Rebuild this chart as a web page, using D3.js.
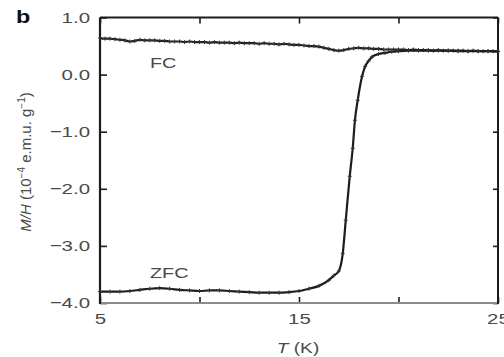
<!DOCTYPE html>
<html>
<head>
<meta charset="utf-8">
<script src="https://cdn.jsdelivr.net/npm/d3@7/dist/d3.min.js"></script>
<style>
  html, body { margin: 0; padding: 0; background: #fff; }
  svg { display: block; }
  text { font-family: "Liberation Sans", Arial, sans-serif; }
</style>
</head>
<body>
<svg id="chart" width="504" height="357"></svg>
<script>
// Field-cooled susceptibility, T = 5 K to 25 K in 0.25 K steps
const fcT = d3.range(5, 25.001, 0.25);
const fcM = [
  0.64, 0.63, 0.63, 0.62, 0.61, 0.60, 0.58, 0.59, 0.61, 0.60,
  0.60, 0.60, 0.59, 0.59, 0.58, 0.58, 0.58, 0.57, 0.58, 0.57,
  0.57, 0.57, 0.56, 0.57, 0.56, 0.56, 0.56, 0.55, 0.56, 0.55,
  0.55, 0.55, 0.54, 0.55, 0.54, 0.54, 0.53, 0.54, 0.53, 0.52,
  0.52, 0.51, 0.50, 0.50, 0.49, 0.47, 0.45, 0.43, 0.42, 0.43,
  0.45, 0.46, 0.47, 0.46, 0.46, 0.45, 0.45, 0.44, 0.44, 0.44,
  0.44, 0.44, 0.43, 0.44, 0.43, 0.43, 0.43, 0.42, 0.43, 0.42,
  0.42, 0.42, 0.42, 0.42, 0.41, 0.42, 0.41, 0.41, 0.41, 0.41,
  0.41
];

// Zero-field-cooled susceptibility
const zfcT = [
  5.0, 5.5, 6.0, 6.5, 7.0, 7.5, 8.0, 8.5, 9.0, 9.5,
  10.0, 10.5, 11.0, 11.5, 12.0, 12.5, 13.0, 13.5, 14.0, 14.5,
  15.0, 15.5, 16.0, 16.5, 16.75, 17.0, 17.2, 17.35, 17.55, 17.7,
  17.81, 17.95, 18.17, 18.32, 18.5, 18.67, 19.0, 19.32, 19.66, 20.0,
  20.5, 21.0, 21.5, 22.0, 22.5, 23.0, 23.5, 24.0, 24.5, 25.0
];
const zfcM = [
  -3.80, -3.80, -3.80, -3.79, -3.77, -3.75, -3.74, -3.75, -3.77, -3.78,
  -3.79, -3.78, -3.78, -3.79, -3.80, -3.81, -3.82, -3.82, -3.82, -3.81,
  -3.79, -3.75, -3.70, -3.60, -3.52, -3.44, -3.13, -2.55, -1.78, -1.29,
  -0.80, -0.45, -0.03, 0.14, 0.24, 0.31, 0.36, 0.38, 0.40, 0.41,
  0.42, 0.42, 0.42, 0.42, 0.42, 0.41, 0.41, 0.41, 0.41, 0.40
];

const xTicks = [5, 10, 15, 20, 25];
const xTickLabels = ["5", "", "15", "", "25"];
const yTicks = [1, 0, -1, -2, -3, -4];

const svg = d3.select("#chart");
const plotLeft = 100, plotRight = 498, plotTop = 17.5, plotBottom = 303;

const x = d3.scaleLinear().domain([5, 25]).range([plotLeft, plotRight]);
const y = d3.scaleLinear().domain([-4, 1]).range([plotBottom, plotTop]);

const ink = "#1c1c1c";
const labelColor = "#4a4a4a";
const stretch = 1.32;   // wide lettering used throughout the figure

// Places a horizontally widened text whose anchor sits at (ax, ay)
function wideText(ax, ay, size, anchor) {
  return svg.append("text")
    .attr("transform", `translate(${ax},${ay}) scale(${stretch},1)`)
    .attr("text-anchor", anchor || "start")
    .attr("font-size", size)
    .attr("fill", labelColor);
}

// Panel letter
svg.append("text")
  .attr("transform", "translate(16,23) scale(1.3,1)")
  .attr("font-size", 18).attr("font-weight", "bold")
  .attr("fill", "#111")
  .text("b");

// Bottom axis: ticks pointing up into the plot
const xAxis = svg.append("g")
  .attr("transform", `translate(0,${plotBottom})`)
  .call(d3.axisBottom(x).tickValues(xTicks)
    .tickSizeInner(-6).tickSizeOuter(0)
    .tickFormat((d, i) => xTickLabels[i]));
xAxis.select(".domain").remove();
xAxis.selectAll(".tick line").attr("stroke", ink).attr("stroke-width", 1.6);
xAxis.selectAll(".tick text")
  .attr("y", 21).attr("dy", 0)
  .attr("transform", `scale(${stretch},1)`)
  .attr("font-size", 15.5).attr("fill", labelColor);

// Top axis: ticks only
const xTop = svg.append("g")
  .attr("transform", `translate(0,${plotTop})`)
  .call(d3.axisTop(x).tickValues(xTicks).tickSizeInner(-6).tickSizeOuter(0).tickFormat(""));
xTop.select(".domain").remove();
xTop.selectAll(".tick line").attr("stroke", ink).attr("stroke-width", 1.6);

// Left axis: ticks pointing right into the plot
const yAxis = svg.append("g")
  .attr("transform", `translate(${plotLeft},0)`)
  .call(d3.axisLeft(y).tickValues(yTicks)
    .tickSizeInner(-7).tickSizeOuter(0)
    .tickFormat(d3.format(".1f")));
yAxis.select(".domain").remove();
yAxis.selectAll(".tick line").attr("stroke", ink).attr("stroke-width", 1.6);
yAxis.selectAll(".tick text")
  .attr("x", -10 / stretch)
  .attr("transform", `scale(${stretch},1)`)
  .attr("font-size", 15.5).attr("fill", labelColor);

// Right axis: ticks only
const yRight = svg.append("g")
  .attr("transform", `translate(${plotRight},0)`)
  .call(d3.axisRight(y).tickValues(yTicks).tickSizeInner(-5).tickSizeOuter(0).tickFormat(""));
yRight.select(".domain").remove();
yRight.selectAll(".tick line").attr("stroke", ink).attr("stroke-width", 1.6);

// Frame
svg.append("line").attr("x1", plotLeft).attr("x2", plotRight).attr("y1", plotBottom).attr("y2", plotBottom)
  .attr("stroke", "#8c8c8c").attr("stroke-width", 2.2);
svg.append("line").attr("x1", plotLeft).attr("x2", plotRight).attr("y1", plotTop).attr("y2", plotTop)
  .attr("stroke", ink).attr("stroke-width", 1.8);
svg.append("line").attr("x1", plotLeft).attr("x2", plotLeft).attr("y1", plotTop).attr("y2", plotBottom + 1)
  .attr("stroke", ink).attr("stroke-width", 2.2);
svg.append("line").attr("x1", plotRight).attr("x2", plotRight).attr("y1", plotTop).attr("y2", plotBottom + 1)
  .attr("stroke", ink).attr("stroke-width", 2);

// Curves with small point markers
const line = d3.line()
  .x(d => x(d[0])).y(d => y(d[1]))
  .curve(d3.curveMonotoneX);

function drawSeries(ts, ms) {
  const pts = ts.map((t, i) => [t, ms[i]]);
  svg.append("path").datum(pts)
    .attr("d", line)
    .attr("fill", "none")
    .attr("stroke", ink)
    .attr("stroke-width", 2.2)
    .attr("stroke-linejoin", "round");
  svg.append("g").selectAll("path").data(pts).join("path")
    .attr("d", d => {
      const px = x(d[0]), py = y(d[1]);
      return `M${px - 2},${py}H${px + 2}M${px},${py - 2}V${py + 2}`;
    })
    .attr("stroke", "#333")
    .attr("stroke-width", 1);
}
drawSeries(fcT, fcM);
drawSeries(zfcT, zfcM);

// Curve labels
wideText(150, 68, 15).text("FC");
wideText(150, 278, 15).text("ZFC");

// Axis titles
const xTitle = wideText(298, 353, 14.5, "middle");
xTitle.append("tspan").attr("font-style", "italic").text("T");
xTitle.append("tspan").text(" (K)");

const yTitle = svg.append("text")
  .attr("transform", "translate(31,162) rotate(-90)")
  .attr("text-anchor", "middle")
  .attr("font-size", 15).attr("fill", labelColor);
yTitle.append("tspan").attr("font-style", "italic").text("M/H");
yTitle.append("tspan").text(" (10");
yTitle.append("tspan").attr("font-size", 10).attr("dy", -6).text("\u22124");
yTitle.append("tspan").attr("dy", 6).text(" e.m.u. g");
yTitle.append("tspan").attr("font-size", 10).attr("dy", -6).text("\u22121");
yTitle.append("tspan").attr("dy", 6).text(")");
</script>
</body>
</html>
